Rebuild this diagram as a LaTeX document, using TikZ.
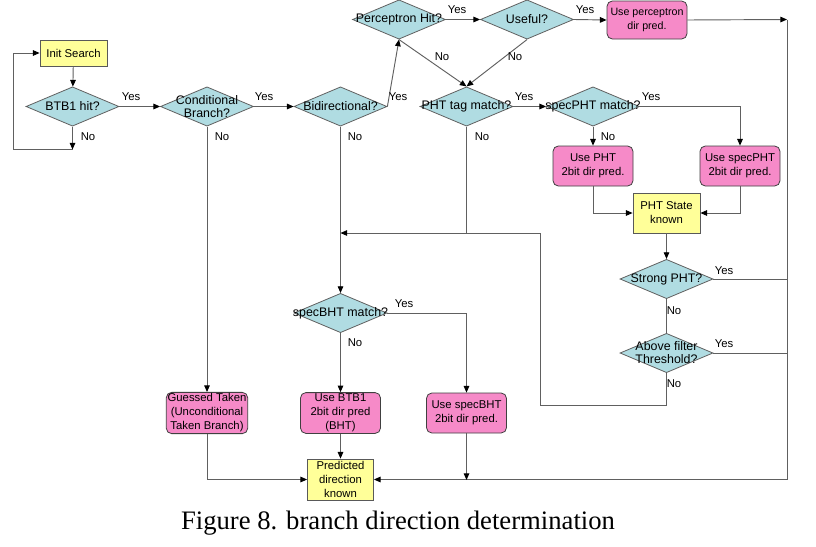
\documentclass[tikz,border=0pt]{standalone}
\usepackage{fontspec}
\setmainfont{Liberation Serif}
\newfontfamily\diagfont{Liberation Sans}
\usetikzlibrary{shapes.geometric,arrows.meta}
\definecolor{diafill}{RGB}{176,220,226}
\definecolor{pinkfill}{RGB}{246,138,200}
\definecolor{yelfill}{RGB}{255,255,153}
\definecolor{linecol}{RGB}{96,96,96}
\begin{document}
\begin{tikzpicture}[x=0.75pt,y=-0.75pt,
  every node/.style={font=\diagfont\fontsize{8.5}{10.5}\selectfont},
  dia/.style={diamond, draw=linecol, fill=diafill, line width=0.6pt, minimum width=69.75pt, minimum height=29.5pt, inner sep=0pt},
  dtext/.style={align=center, inner sep=0pt, font=\diagfont\fontsize{9.3}{9.8}\selectfont},
  pbox/.style={draw=black!75, fill=pinkfill, line width=0.6pt, rounded corners=4pt, minimum width=60pt, minimum height=30pt, align=center, inner sep=1pt},
  ybox/.style={draw=black!65, fill=yelfill, line width=0.6pt, minimum width=50pt, minimum height=30pt, align=center, inner sep=1pt},
  conn/.style={draw=linecol, line width=0.7pt},
  arr/.style={conn, -{Triangle[length=5pt,width=4.2pt,color=black]}},
  lbl/.style={inner sep=0pt}
]
\useasboundingbox[fill=white] (0,0) rectangle (816,546);

% boxes
\node[ybox, minimum width=50.25pt, minimum height=19.5pt] (init) at (73.5,53) {Init Search};
\node[ybox, minimum width=50.25pt] (phts) at (666.5,213) {PHT State\\known};
\node[ybox, minimum width=49.5pt, minimum height=30.75pt] (pred) at (340.5,479.5) {Predicted\\direction\\known};

\node[pbox, minimum height=28.5pt, font=\diagfont\fontsize{8}{10.5}\selectfont] (useperc) at (647,20) {Use perceptron\\dir pred.};
\node[pbox] (usepht) at (593,166) {Use PHT\\2bit dir pred.};
\node[pbox] (usespecpht) at (740,166) {Use specPHT\\2bit dir pred.};
\node[pbox] (guess) at (207,413) {Guessed Taken\\(Unconditional\\Taken Branch)};
\node[pbox] (usebtb) at (340.5,413) {Use BTB1\\2bit dir pred\\(BHT)};
\node[pbox] (usespecbht) at (466.5,413) {Use specBHT\\2bit dir pred.};

% decisions
\node[dia, label={[dtext]center:BTB1 hit?}] (btb) at (72.5,106.5) {};
\node[dia, label={[dtext]center:{Conditional\\Branch?}}] (cond) at (207,106.5) {};
\node[dia, label={[dtext]center:Bidirectional?}] (bid) at (340.5,106.5) {};
\node[dia, label={[dtext]center:Perceptron Hit?}] (perc) at (399,19.5) {};
\node[dia, label={[dtext]center:Useful?}] (useful) at (527,19.5) {};
\node[dia, label={[dtext]center:PHT tag match?}] (pht) at (466.5,106.5) {};
\node[dia, label={[dtext]center:specPHT match?}] (specpht) at (593,106.5) {};
\node[dia, label={[dtext]center:Strong PHT?}] (strong) at (666.5,279) {};
\node[dia, label={[dtext]center:{Above filter\\Threshold?}}] (above) at (666.5,353) {};
\node[dia, label={[dtext]center:specBHT match?}] (specbht) at (340.5,313) {};

% coordinates
\coordinate (loopc) at (72.5,149.5);
\coordinate (rtop) at (787,19.5);
\coordinate (j1) at (466.5,233);
\coordinate (jm) at (340.5,233);
\coordinate (jb) at (466.5,480);
\coordinate (lb) at (540,405);

% connectors
\draw[arr] (init) -- (btb);
\draw[arr] (btb.south) -- (loopc);
\draw[arr] (loopc) -- ++(-59.5,0) |- (init.west);
\draw[arr] (btb.east) -- (cond.west);
\draw[arr] (cond.east) -- (bid.west);
\draw[arr] (cond.south) -- (guess.north);
\draw[arr] (bid.east) -- (perc.south);
\draw[arr] (bid.south) -- (specbht.north);
\draw[arr] (perc.east) -- (useful.west);
\draw[arr] (perc.south) -- (pht.north);
\draw[arr] (useful.south) -- (pht.north);
\draw[arr] (useful.east) -- (useperc.west);
\draw[arr] (useperc.east) -- (rtop);
\draw[arr] (rtop) |- (pred.east);
\draw[arr] (pht.east) -- (specpht.west);
\draw[conn] (pht.south) -- (j1);
\draw[arr] (specpht.east) -| (usespecpht.north);
\draw[arr] (specpht.south) -- (usepht.north);
\draw[arr] (usepht.south) |- (phts.west);
\draw[arr] (usespecpht.south) |- (phts.east);
\draw[arr] (phts.south) -- (strong.north);
\draw[conn] (strong.east) -- (strong.east -| rtop);
\draw[conn] (strong.south) -- (above.north);
\draw[conn] (above.east) -- (above.east -| rtop);
\draw[arr] (above.south) |- (lb) |- (jm);
\draw[arr] (specbht.east) -| (usespecbht.north);
\draw[arr] (specbht.south) -- (usebtb.north);
\draw[arr] (guess.south) |- (pred.west);
\draw[arr] (usebtb.south) -- (pred.north);
\draw[arr] (usespecbht.south) -- (jb);

% Yes / No labels
\node[lbl] (y1) at (131,97) {Yes};
\node[lbl] (y2) at (264,97) {Yes};
\node[lbl] (y3) at (398,97) {Yes};
\node[lbl] (y4) at (457,10) {Yes};
\node[lbl] (y5) at (585,10) {Yes};
\node[lbl] (y6) at (524,97) {Yes};
\node[lbl] (y7) at (651,97) {Yes};
\node[lbl] (y8) at (724,271) {Yes};
\node[lbl] (y9) at (724,344) {Yes};
\node[lbl] (y10) at (404,304) {Yes};
\node[lbl] (n1) at (88,137) {No};
\node[lbl] (n2) at (222,137) {No};
\node[lbl] (n3) at (355,137) {No};
\node[lbl] (n4) at (482,137) {No};
\node[lbl] (n5) at (608,137) {No};
\node[lbl] (n6) at (442,57) {No};
\node[lbl] (n7) at (515,57) {No};
\node[lbl] (n8) at (674,311) {No};
\node[lbl] (n9) at (674,384) {No};
\node[lbl] (n10) at (355,343) {No};

% caption
\node[font=\rmfamily\fontsize{20}{24}\selectfont, anchor=base, inner sep=0pt] (cap) at (398,529) {Figure 8. branch direction determination};
\end{tikzpicture}
\end{document}
